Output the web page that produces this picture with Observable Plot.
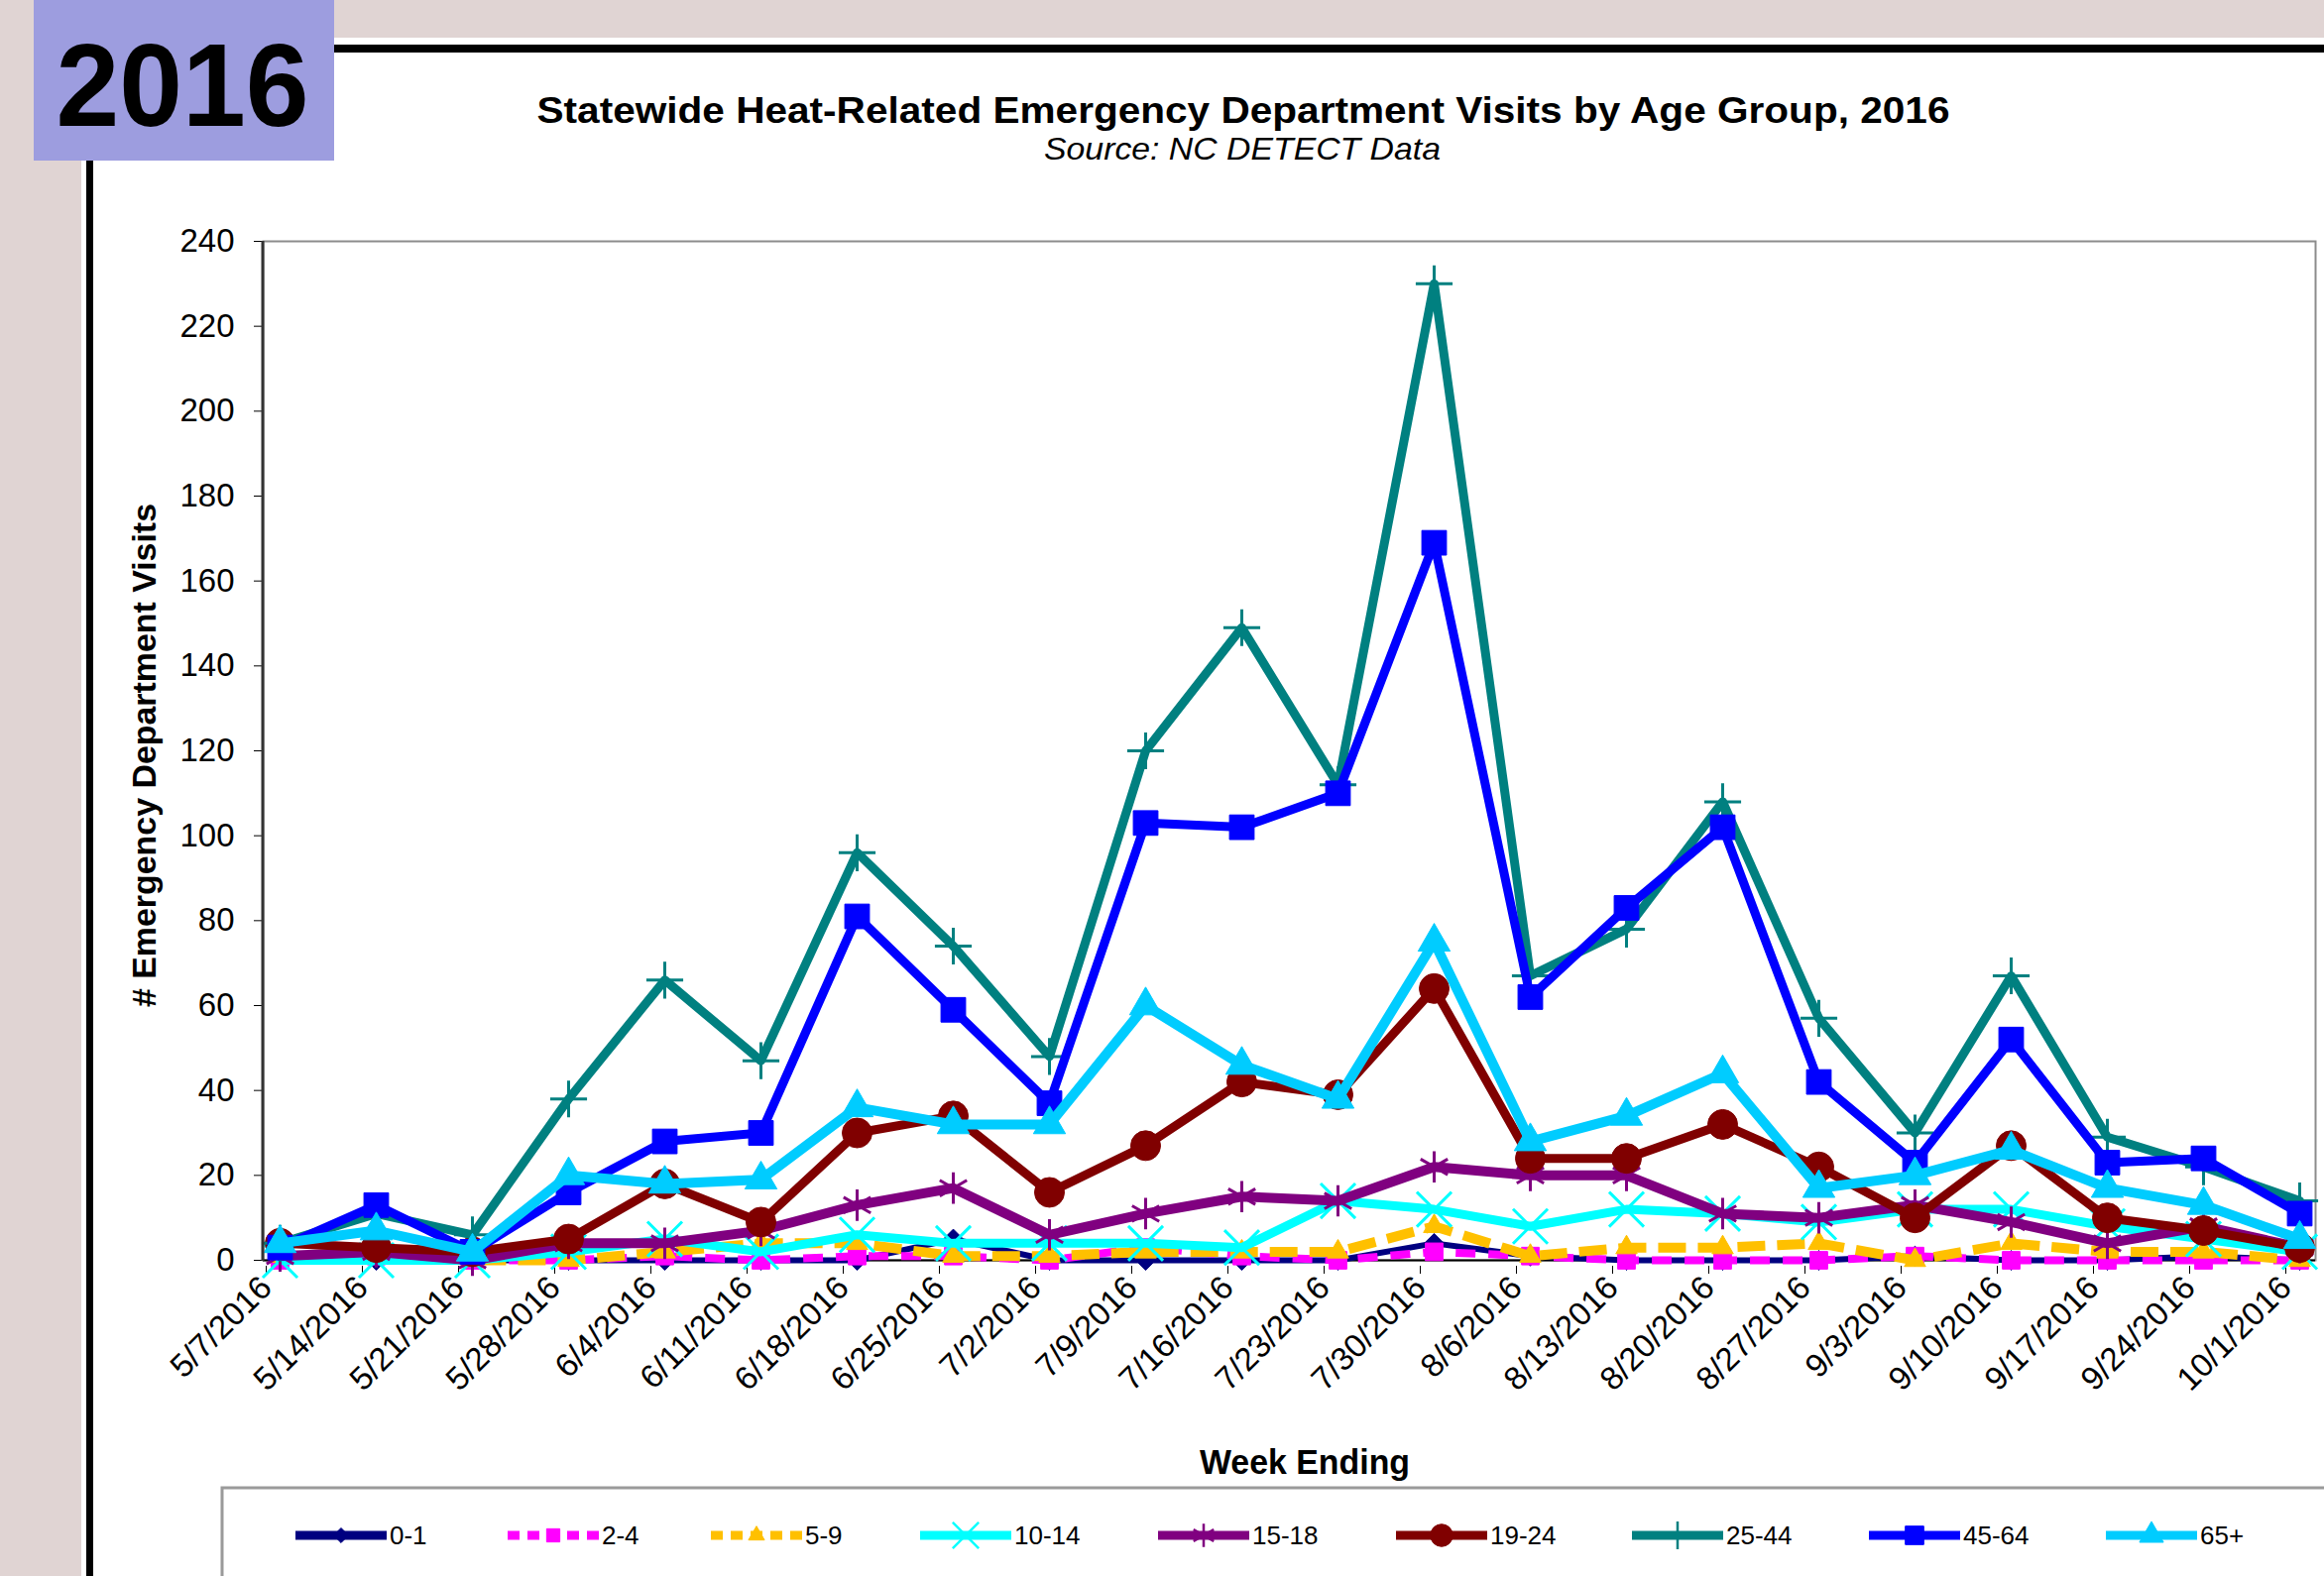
<!DOCTYPE html>
<html>
<head>
<meta charset="utf-8">
<script src="https://cdn.jsdelivr.net/npm/d3@7"></script>
<script src="https://cdn.jsdelivr.net/npm/@observablehq/plot@0.6"></script>
<style>
html, body { margin: 0; padding: 0; background: #e0d4d3; }
#page { position: relative; width: 2344px; height: 1590px; overflow: hidden; background: #e0d4d3; font-family: "Liberation Sans", Arial, sans-serif; }
#panel { position: absolute; left: 82px; top: 38px; width: 2262px; height: 1552px; background: #ffffff; }
#hline { position: absolute; left: 87px; top: 45px; width: 2257px; height: 8px; background: #000; }
#vline { position: absolute; left: 87px; top: 45px; width: 7px; height: 1545px; background: #000; }
#yearbox { position: absolute; left: 34px; top: 0px; width: 303px; height: 162px; background: #9d9ddf; }
#page svg { position: absolute; left: 0; top: 0; }
</style>
</head>
<body>
<div id="page">
  <div id="panel"></div>
  <div id="hline"></div>
  <div id="vline"></div>
  <div id="yearbox"></div>
</div>
<script>
// ---------------- DATA ----------------
const weeks = ["5/7/2016","5/14/2016","5/21/2016","5/28/2016","6/4/2016","6/11/2016","6/18/2016","6/25/2016","7/2/2016","7/9/2016","7/16/2016","7/23/2016","7/30/2016","8/6/2016","8/13/2016","8/20/2016","8/27/2016","9/3/2016","9/10/2016","9/17/2016","9/24/2016","10/1/2016"];
const ageGroups = ["0-1","2-4","5-9","10-14","15-18","19-24","25-44","45-64","65+"];
const age0_1   = [0,0,0,0,0,0,0,5,0,0,0,0,4,1,0,0,0,1,0,0,1,0];
const age2_4   = [0,1,0,0,1,0,1,1,0,3,1,0,2,1,0,0,0,1,0,0,0,0];
const age5_9   = [1,1,0,0,2,4,4,1,1,2,2,2,8,1,3,3,4,0,4,2,2,0];
const age10_14 = [0,0,0,2,5,2,6,4,4,4,3,14,12,8,12,11,9,12,12,8,5,2];
const age15_18 = [1,2,0,4,4,7,13,17,6,11,15,14,22,20,20,11,10,13,9,4,8,3];
const age19_24 = [4,3,2,5,18,9,30,34,16,27,42,39,64,24,24,32,22,10,27,10,7,3];
const age25_44 = [4,11,6,38,66,47,96,74,48,120,149,112,230,67,78,108,57,30,67,29,22,14];
const age45_64 = [3,13,2,16,28,30,81,59,37,103,102,110,169,62,83,102,42,23,52,23,24,11];
const age65p   = [4,7,2,20,18,19,36,32,32,60,46,38,75,28,34,44,17,20,26,17,13,5];
const yTicks = [0,20,40,60,80,100,120,140,160,180,200,220,240];
const seriesValues = [age0_1, age2_4, age5_9, age10_14, age15_18, age19_24, age25_44, age45_64, age65p];

// ---------------- STYLES ----------------
const styles = [
  {color:"#000080", symbol:"diamond2", r:9,  sw:6,  dash:null,    filled:true},
  {color:"#ff00ff", symbol:"square",   r:10, sw:8,  dash:"20,13", filled:true},
  {color:"#ffc000", symbol:"triangle", r:8,  sw:10, dash:"28,12", filled:true},
  {color:"#00ffff", symbol:"times",    r:16, sw:9,  dash:null,    filled:false},
  {color:"#800080", symbol:"asterisk", r:15, sw:10, dash:null,    filled:false},
  {color:"#800000", symbol:"circle",   r:15, sw:9,  dash:null,    filled:true},
  {color:"#008080", symbol:"plus",     r:12, sw:9,  dash:null,    filled:false},
  {color:"#0000ff", symbol:"square",   r:14, sw:9,  dash:null,    filled:true},
  {color:"#00ccff", symbol:"triangle", r:12, sw:10, dash:null,    filled:true}
];
const FONT = "Liberation Sans, Arial, sans-serif";

const seriesMarks = ageGroups.flatMap((g, k) => {
  const st = styles[k];
  const rows = weeks.map((w, i) => ({week: w, value: seriesValues[k][i], group: g}));
  return [
    Plot.line(rows, {x: "week", y: "value", stroke: st.color, strokeWidth: st.sw,
      strokeDasharray: st.dash || undefined, strokeLinejoin: "round", strokeLinecap: st.dash ? "butt" : "round"}),
    Plot.dot(rows, {x: "week", y: "value", symbol: st.symbol, r: st.r,
      fill: st.filled ? st.color : "none", stroke: st.color, strokeWidth: st.filled ? 1 : 3})
  ];
});

const chart = Plot.plot({
  width: 2344, height: 1590,
  marginLeft: 265, marginRight: 9, marginTop: 243, marginBottom: 319,
  style: {background: "transparent", fontFamily: FONT, fontSize: "32px", color: "#000", overflow: "visible"},
  x: {type: "point", domain: weeks, padding: 0.07, label: null},
  y: {domain: [0, 240], label: null},
  marks: [
    Plot.frame({stroke: "#8c8c8c", strokeWidth: 2}),
    Plot.axisY(yTicks, {tickSize: 9, tickPadding: 20, fontSize: 33, fontFamily: FONT, label: null}),
    Plot.axisX({tickRotate: -45, tickSize: 8, tickPadding: 8, fontSize: 33, fontFamily: FONT, label: null, dx: -14, dy: 6}),
    Plot.ruleY([0], {stroke: "#000", strokeWidth: 2}),
    ...seriesMarks
  ]
});
document.getElementById("page").appendChild(chart);

// left axis line along the y scale
const xr = chart.scale("x").range, yr = chart.scale("y").range;
d3.select(chart).append("line")
  .attr("x1", xr[0]).attr("x2", xr[0]).attr("y1", yr[0] + 1).attr("y2", yr[1])
  .attr("stroke", "#333").attr("stroke-width", 3);

// ---------------- TEXT + LEGEND OVERLAY ----------------
const ov = d3.select("#page").append("svg")
  .attr("width", 2344).attr("height", 1590)
  .style("font-family", FONT);

ov.append("text").text("2016")
  .attr("x", 184).attr("y", 127).attr("text-anchor", "middle")
  .attr("font-size", 118).attr("font-weight", "bold")
  .attr("textLength", 255).attr("lengthAdjust", "spacingAndGlyphs");

ov.append("text").text("Statewide Heat-Related Emergency Department Visits by Age Group, 2016")
  .attr("x", 1254).attr("y", 124).attr("text-anchor", "middle")
  .attr("font-size", 36).attr("font-weight", "bold")
  .attr("textLength", 1425).attr("lengthAdjust", "spacingAndGlyphs");

ov.append("text").text("Source: NC DETECT Data")
  .attr("x", 1253).attr("y", 161).attr("text-anchor", "middle")
  .attr("font-size", 32).attr("font-style", "italic")
  .attr("textLength", 400).attr("lengthAdjust", "spacingAndGlyphs");

ov.append("text").text("# Emergency Department Visits")
  .attr("transform", "translate(157,762) rotate(-90)").attr("text-anchor", "middle")
  .attr("font-size", 34).attr("font-weight", "bold")
  .attr("textLength", 508).attr("lengthAdjust", "spacingAndGlyphs");

ov.append("text").text("Week Ending")
  .attr("x", 1316).attr("y", 1487).attr("text-anchor", "middle")
  .attr("font-size", 35).attr("font-weight", "bold")
  .attr("textLength", 212).attr("lengthAdjust", "spacingAndGlyphs");

// legend box
ov.append("rect").attr("x", 224).attr("y", 1501).attr("width", 2200).attr("height", 200)
  .attr("fill", "#fff").attr("stroke", "#9a9a9a").attr("stroke-width", 3);

const legendX = [298, 512, 717, 928, 1168, 1408, 1646, 1885, 2124];
const legendY = 1549, legendLen = 92;
const symMap = {diamond2: d3.symbolDiamond2, square: d3.symbolSquare, triangle: d3.symbolTriangle,
  times: d3.symbolTimes, asterisk: d3.symbolAsterisk, circle: d3.symbolCircle, plus: d3.symbolPlus};
ageGroups.forEach((g, k) => {
  const st = styles[k], x0 = legendX[k];
  const gg = ov.append("g");
  gg.append("line").attr("x1", x0).attr("x2", x0 + legendLen).attr("y1", legendY).attr("y2", legendY)
    .attr("stroke", st.color).attr("stroke-width", 9)
    .attr("stroke-dasharray", st.dash ? "12,8" : null);
  const r = st.r * 0.75;
  gg.append("path")
    .attr("d", d3.symbol(symMap[st.symbol], Math.PI * r * r)())
    .attr("transform", `translate(${x0 + legendLen / 2},${legendY})`)
    .attr("fill", st.filled ? st.color : "none").attr("stroke", st.color)
    .attr("stroke-width", st.filled ? 1 : 2.5);
  gg.append("text").text(g).attr("x", x0 + legendLen + 3).attr("y", legendY + 9)
    .attr("font-size", 26);
});
</script>
</body>
</html>
